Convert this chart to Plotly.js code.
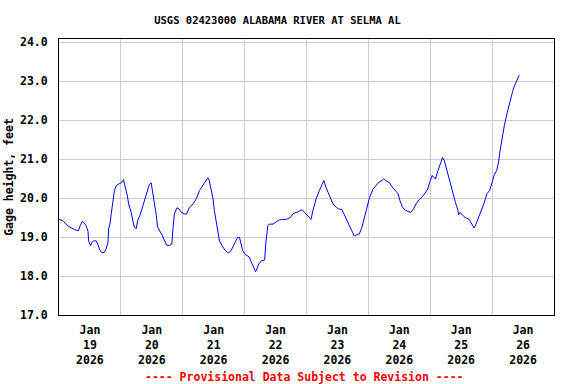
<!DOCTYPE html>
<html>
<head>
<meta charset="utf-8">
<script src="https://cdn.plot.ly/plotly-3.0.1.min.js"></script>
<style>html,body{margin:0;padding:0;background:#fff;}#chart{width:576px;height:384px;}</style>
</head>
<body>
<div id="chart"></div>
<script>
const chartTitle = "USGS 02423000 ALABAMA RIVER AT SELMA AL";
const yAxisTitle = "Gage height, feet";
const footerText = "---- Provisional Data Subject to Revision ----";

const times = [
"2026-01-19 00:00","2026-01-19 01:30","2026-01-19 02:45","2026-01-19 04:00","2026-01-19 06:00","2026-01-19 07:30",
"2026-01-19 08:15","2026-01-19 09:00","2026-01-19 09:45","2026-01-19 10:30","2026-01-19 11:15","2026-01-19 11:30",
"2026-01-19 12:15","2026-01-19 12:45","2026-01-19 13:30","2026-01-19 14:30","2026-01-19 15:00","2026-01-19 15:45",
"2026-01-19 16:30","2026-01-19 17:30","2026-01-19 18:15","2026-01-19 19:00","2026-01-19 19:15","2026-01-19 19:45",
"2026-01-19 20:15","2026-01-19 21:00","2026-01-19 21:30","2026-01-19 22:15","2026-01-19 23:15",
"2026-01-20 00:15","2026-01-20 01:00","2026-01-20 01:45","2026-01-20 02:30","2026-01-20 03:00","2026-01-20 04:00",
"2026-01-20 04:45","2026-01-20 05:15","2026-01-20 06:00","2026-01-20 06:30","2026-01-20 07:30","2026-01-20 08:30",
"2026-01-20 09:30","2026-01-20 10:30","2026-01-20 11:00","2026-01-20 11:45","2026-01-20 12:30","2026-01-20 13:00",
"2026-01-20 13:45","2026-01-20 14:15","2026-01-20 15:15","2026-01-20 16:00","2026-01-20 17:00","2026-01-20 17:45",
"2026-01-20 18:45","2026-01-20 19:45","2026-01-20 20:15","2026-01-20 20:45","2026-01-20 21:45","2026-01-20 22:30",
"2026-01-20 23:30",
"2026-01-21 00:45","2026-01-21 01:30","2026-01-21 02:30","2026-01-21 04:00","2026-01-21 05:15","2026-01-21 06:30",
"2026-01-21 07:45","2026-01-21 09:00","2026-01-21 09:45","2026-01-21 10:15","2026-01-21 11:00","2026-01-21 11:45",
"2026-01-21 12:15","2026-01-21 13:00","2026-01-21 13:30","2026-01-21 14:15","2026-01-21 15:15","2026-01-21 16:30",
"2026-01-21 17:45","2026-01-21 18:45","2026-01-21 20:00","2026-01-21 21:15","2026-01-21 22:00","2026-01-21 22:30",
"2026-01-21 23:15",
"2026-01-22 00:15","2026-01-22 01:45","2026-01-22 02:30","2026-01-22 03:30","2026-01-22 04:15","2026-01-22 04:45",
"2026-01-22 05:30","2026-01-22 06:30","2026-01-22 07:45","2026-01-22 08:15","2026-01-22 09:00","2026-01-22 09:30",
"2026-01-22 11:00","2026-01-22 12:15","2026-01-22 13:30","2026-01-22 14:45","2026-01-22 16:15","2026-01-22 17:45",
"2026-01-22 19:00","2026-01-22 20:15","2026-01-22 21:15","2026-01-22 22:15","2026-01-22 23:15",
"2026-01-23 00:30","2026-01-23 01:45","2026-01-23 02:30","2026-01-23 03:45","2026-01-23 05:00","2026-01-23 06:00",
"2026-01-23 06:45","2026-01-23 07:30","2026-01-23 08:45","2026-01-23 10:15","2026-01-23 11:30","2026-01-23 12:30",
"2026-01-23 13:45","2026-01-23 14:45","2026-01-23 16:00","2026-01-23 17:15","2026-01-23 18:30","2026-01-23 19:15",
"2026-01-23 20:30","2026-01-23 21:30","2026-01-23 22:30","2026-01-23 23:30",
"2026-01-24 00:30","2026-01-24 01:45","2026-01-24 03:00","2026-01-24 04:00","2026-01-24 05:15","2026-01-24 06:00",
"2026-01-24 06:45","2026-01-24 08:15","2026-01-24 09:15","2026-01-24 10:30","2026-01-24 11:30","2026-01-24 12:15",
"2026-01-24 13:15","2026-01-24 14:30","2026-01-24 16:00","2026-01-24 16:30","2026-01-24 17:30","2026-01-24 18:30",
"2026-01-24 19:45","2026-01-24 21:00","2026-01-24 22:15","2026-01-24 23:00","2026-01-24 23:45",
"2026-01-25 00:45","2026-01-25 01:15","2026-01-25 02:00","2026-01-25 03:00","2026-01-25 03:45","2026-01-25 04:45",
"2026-01-25 05:30","2026-01-25 06:30","2026-01-25 07:30","2026-01-25 08:45","2026-01-25 09:45","2026-01-25 10:45",
"2026-01-25 11:00","2026-01-25 11:30","2026-01-25 12:15","2026-01-25 13:30","2026-01-25 15:00","2026-01-25 15:45",
"2026-01-25 16:30","2026-01-25 17:00","2026-01-25 17:45","2026-01-25 18:45","2026-01-25 19:45","2026-01-25 21:00",
"2026-01-25 22:00","2026-01-25 23:00",
"2026-01-26 00:00","2026-01-26 00:45","2026-01-26 01:45","2026-01-26 02:30","2026-01-26 03:00","2026-01-26 03:45",
"2026-01-26 04:45","2026-01-26 05:45","2026-01-26 06:45","2026-01-26 07:45","2026-01-26 08:30","2026-01-26 09:30",
"2026-01-26 10:15","2026-01-26 10:30"
];

const gageHeight = [
19.45,19.42,19.33,19.26,19.19,19.16,
19.29,19.40,19.36,19.29,19.14,18.89,
18.78,18.86,18.90,18.90,18.82,18.68,
18.60,18.60,18.69,18.86,19.21,19.33,
19.59,19.93,20.19,20.32,20.36,
20.40,20.47,20.28,20.06,19.85,19.63,
19.38,19.25,19.22,19.42,19.57,19.80,
20.06,20.28,20.34,20.39,20.11,19.85,
19.55,19.25,19.14,19.05,18.90,18.79,
18.78,18.82,19.25,19.59,19.75,19.72,
19.63,
19.59,19.59,19.75,19.85,19.98,20.19,
20.32,20.45,20.52,20.45,20.23,19.98,
19.68,19.38,19.12,18.90,18.78,18.65,
18.59,18.65,18.82,18.99,18.99,18.84,
18.65,
18.55,18.49,18.37,18.22,18.11,18.18,
18.31,18.39,18.41,18.86,19.29,19.33,
19.33,19.39,19.44,19.45,19.45,19.50,
19.61,19.63,19.67,19.70,19.63,
19.53,19.45,19.68,19.98,20.19,20.36,
20.45,20.28,20.06,19.85,19.76,19.72,
19.70,19.55,19.38,19.19,19.03,19.05,
19.08,19.25,19.50,19.76,
20.02,20.22,20.32,20.40,20.45,20.49,
20.45,20.39,20.28,20.19,20.11,19.93,
19.76,19.68,19.63,19.63,19.72,19.85,
19.96,20.04,20.15,20.23,20.40,
20.58,20.53,20.49,20.70,20.83,21.04,
20.95,20.70,20.40,20.11,19.89,19.68,
19.57,19.63,19.57,19.50,19.46,19.38,
19.29,19.23,19.33,19.50,19.68,19.89,
20.11,20.19,
20.40,20.58,20.70,20.92,21.18,21.52,
21.86,22.16,22.46,22.68,22.85,23.02,
23.13,23.15
];

const xRange = ["2026-01-19 00:00", "2026-01-27 00:00"];
const yRange = [17, 24.077];
const yTickVals = [17, 18, 19, 20, 21, 22, 23, 24];
const yTickText = ["17.0", "18.0", "19.0", "20.0", "21.0", "22.0", "23.0", "24.0"];

const FONT = "DejaVu Sans Mono, Liberation Mono, monospace";

const trace = {
  x: times, y: gageHeight, type: "scatter", mode: "lines",
  line: {color: "#0000ff", width: 1}, hoverinfo: "skip", showlegend: false
};

const layout = {
  width: 576, height: 384,
  margin: {l: 59, r: 22, t: 39, b: 69, pad: 0},
  paper_bgcolor: "#ffffff", plot_bgcolor: "#ffffff",
  font: {family: FONT, size: 11, color: "#000000", weight: "bold"},
  title: {
    text: chartTitle, x: 277.5/576, xanchor: "center", xref: "container",
    y: 1 - 20.5/384, yanchor: "middle", yref: "container",
    font: {family: FONT, size: 10.5, color: "#000000", weight: "bold"}
  },
  xaxis: {
    type: "date", range: xRange, tick0: "2026-01-19", dtick: 86400000,
    ticklabelmode: "period", tickformat: "%b<br>%-d<br>%Y",
    showgrid: true, gridcolor: "#cccccc", gridwidth: 1,
    showline: true, linecolor: "#000000", linewidth: 1, mirror: true,
    ticks: "", ticklabelstandoff: 4, zeroline: false, fixedrange: true,
    tickfont: {family: FONT, size: 11.5, color: "#000000", weight: "bold"}
  },
  yaxis: {
    range: yRange, tickmode: "array", tickvals: yTickVals, ticktext: yTickText,
    showgrid: true, gridcolor: "#cccccc", gridwidth: 1,
    showline: true, linecolor: "#000000", linewidth: 1, mirror: true,
    ticks: "", ticklabelstandoff: 8, zeroline: false, fixedrange: true,
    tickfont: {family: FONT, size: 11.5, color: "#000000", weight: "bold"},
    title: {text: yAxisTitle, standoff: 3,
      font: {family: FONT, size: 11.5, color: "#000000", weight: "bold"}}
  },
  annotations: [{
    text: footerText, xref: "paper", yref: "paper",
    x: (304.5 - 59) / 495, y: -(376.5 - 315) / 276,
    xanchor: "center", yanchor: "middle", showarrow: false,
    font: {family: FONT, size: 11.5, color: "#ff0000", weight: "bold"}
  }]
};

Plotly.newPlot("chart", [trace], layout, {staticPlot: true, displayModeBar: false});
</script>
</body>
</html>
